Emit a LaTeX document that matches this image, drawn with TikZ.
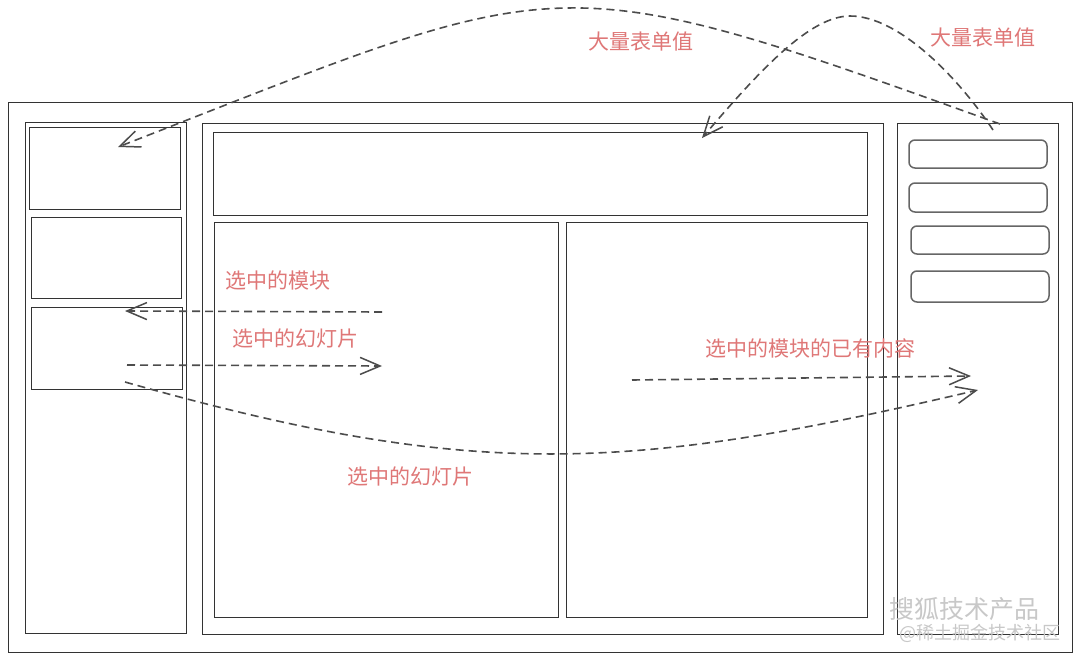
\documentclass[tikz,border=0pt]{standalone}
\usepackage{fontspec}
\newfontfamily\cjk{Noto Sans CJK SC}
\usetikzlibrary{arrows.meta}
\definecolor{lblred}{HTML}{DF7777}
\definecolor{wm}{HTML}{C8C8C8}
\begin{document}
\begin{tikzpicture}[x=1pt,y=-1pt,
  frame/.style={draw=black!80, line width=1pt, inner sep=0pt, outer sep=0pt, rectangle},
  rbox/.style={draw=black!60, line width=1.5pt, rounded corners=6pt, inner sep=0pt, outer sep=0pt, rectangle, minimum width=138pt},
  link/.style={draw=black!70, line width=1.6pt, dash pattern=on 8pt off 5pt,
    -{Straight Barb[length=20pt,width=17pt,line width=1.5pt]}},
  lbl/.style={text=lblred, font=\cjk\fontsize{21}{24}\selectfont, inner sep=0pt},
  wmark/.style={text=wm, inner sep=0pt}]
\useasboundingbox (0,0) rectangle (1080,659);
\fill[white] (0,0) rectangle (1080,659);
% frames
\node[frame, minimum width=1064pt, minimum height=550pt] (outer) at (540,377) {};
\node[frame, minimum width=161pt, minimum height=511pt] (leftp) at (105.5,377.5) {};
\node[frame, minimum width=151pt, minimum height=82pt] (th1) at (104.5,168) {};
\node[frame, minimum width=150pt, minimum height=81pt] (th2) at (106,257.5) {};
\node[frame, minimum width=151pt, minimum height=82pt] (th3) at (106.5,348) {};
\node[frame, minimum width=681pt, minimum height=511pt] (centerp) at (542.5,378.5) {};
\node[frame, minimum width=654pt, minimum height=83pt] (topbar) at (540,173.5) {};
\node[frame, minimum width=344pt, minimum height=395pt] (editl) at (386,419.5) {};
\node[frame, minimum width=301pt, minimum height=395pt] (editr) at (716.5,419.5) {};
\node[frame, minimum width=161pt, minimum height=511pt] (rightp) at (977.5,378.5) {};
\node[rbox, minimum height=28pt] (r1) at (978,154) {};
\node[rbox, minimum height=29pt] (r2) at (978,197.5) {};
\node[rbox, minimum height=28pt] (r3) at (980,240) {};
\node[rbox, minimum height=31pt] (r4) at (980,286.5) {};
% connector end points
\coordinate (c1s) at (1000,124);
\coordinate (c1e) at (118,147);
\coordinate (c2s) at (993,130);
\coordinate (c2p) at (850,16);
\coordinate (c2e) at (702,138);
\coordinate (aS) at (382,312);
\coordinate (aE) at (125,311);
\coordinate (bS) at (127,365);
\coordinate (bE) at (382,366);
\coordinate (cS) at (125,382);
\coordinate (cE) at (978,390);
\coordinate (dS) at (632,380);
\coordinate (dE) at (971,376);
% connectors
\draw[link] (c1s) .. controls (545,-40) and (568,-28) .. (c1e);
\draw[link] (c2s) .. controls (960,80) and (900,16) .. (c2p) .. controls (810,16) and (760,70) .. (c2e);
\draw[link] (aS) -- (aE);
\draw[link] (bS) -- (bE);
\draw[link] (cS) .. controls (475,481) and (628,472) .. (cE);
\draw[link] (dS) -- (dE);
% labels
\node[lbl] (l1) at (641,42) {大量表单值};
\node[lbl] (l2) at (983,38) {大量表单值};
\node[lbl] (l3) at (278,280) {选中的模块};
\node[lbl] (l4) at (295,338) {选中的幻灯片};
\node[lbl] (l5) at (410,476) {选中的幻灯片};
\node[lbl] (l6) at (810,348) {选中的模块的已有内容};
% watermark
\node[wmark, font=\cjk\fontsize{25}{28}\selectfont] (w1) at (964,609) {搜狐技术产品};
\node[wmark, font=\cjk\fontsize{18}{20}\selectfont] (w2) at (980,633) {@稀土掘金技术社区};
\end{tikzpicture}
\end{document}
